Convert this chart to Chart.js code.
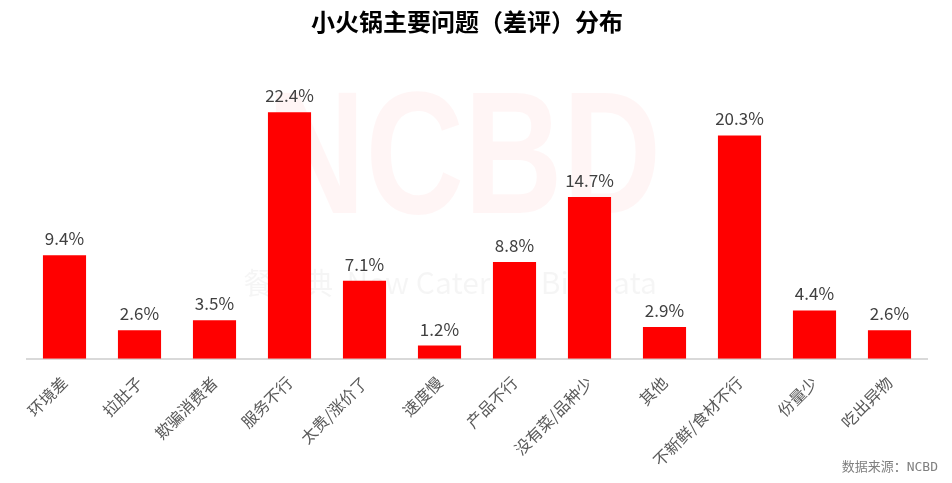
<!DOCTYPE html>
<html>
<head>
<meta charset="utf-8">
<script src="https://cdn.jsdelivr.net/npm/chart.js@4/dist/chart.umd.min.js"></script>
<style>
  html, body { margin: 0; padding: 0; background: #fff; }
  #wrap { position: relative; width: 952px; height: 483px; }
  #src { position: absolute; right: 14px; top: 456px; font: 13px "DejaVu Sans Mono", "Noto Sans CJK SC", monospace; color: #808080; }
</style>
</head>
<body>
<div id="wrap">
  <canvas id="myChart" width="952" height="483"></canvas>
  <div id="src">数据来源：NCBD</div>
</div>
<script>
const labels = ['环境差', '拉肚子', '欺骗消费者', '服务不行', '太贵/涨价了', '速度慢', '产品不行', '没有菜/品种少', '其他', '不新鲜/食材不行', '份量少', '吃出异物'];
const values = [9.4, 2.6, 3.5, 22.4, 7.1, 1.2, 8.8, 14.7, 2.9, 20.3, 4.4, 2.6];
const titleText = '小火锅主要问题（差评）分布';

const cjk = '"Noto Sans CJK SC", "Noto Sans", sans-serif';

// title drawn centred on the canvas (not the chart area)
const titleDraw = {
  id: 'titleDraw',
  afterDraw(chart) {
    const ctx = chart.ctx;
    ctx.save();
    ctx.fillStyle = '#000';
    ctx.font = 'bold 24px ' + cjk;
    ctx.textAlign = 'center';
    ctx.textBaseline = 'middle';
    ctx.fillText(titleText, 467, 22);
    ctx.restore();
  }
};

// faint watermark behind bars
const watermark = {
  id: 'watermark',
  beforeDatasetsDraw(chart) {
    const ctx = chart.ctx;
    ctx.save();
    ctx.fillStyle = 'rgba(255,0,0,0.04)';
    ctx.textAlign = 'center';
    ctx.textBaseline = 'middle';
    ctx.translate(464, 165);
    ctx.scale(0.78, 1);
    ctx.font = 'bold 175px "Liberation Sans", sans-serif';
    ctx.fillText('NCBD', 0, 0);
    ctx.restore();
    ctx.save();
    ctx.fillStyle = 'rgba(0,0,0,0.04)';
    ctx.textAlign = 'center';
    ctx.textBaseline = 'middle';
    ctx.font = '30px ' + cjk;
    ctx.fillText('餐宝典  New Catering Big Data', 450, 283);
    ctx.restore();
  }
};

// value labels on top of bars
const valueLabels = {
  id: 'valueLabels',
  afterDatasetsDraw(chart) {
    const ctx = chart.ctx;
    const meta = chart.getDatasetMeta(0);
    ctx.save();
    ctx.fillStyle = '#404040';
    ctx.font = '17px ' + cjk;
    ctx.textAlign = 'center';
    ctx.textBaseline = 'bottom';
    meta.data.forEach((bar, i) => {
      ctx.fillText(values[i].toFixed(1) + '%', bar.x, bar.y - 8);
    });
    ctx.restore();
  }
};

const data = {
  labels: labels,
  datasets: [{
    data: values,
    backgroundColor: '#ff0000',
    categoryPercentage: 1,
    barPercentage: 0.575
  }]
};

const config = {
  type: 'bar',
  data: data,
  plugins: [watermark, valueLabels, titleDraw],
  options: {
    responsive: false,
    animation: false,
    layout: { padding: { left: 27, right: 25, top: 65, bottom: 7 } },
    plugins: {
      legend: { display: false },
      tooltip: { enabled: false },
      title: { display: false }
    },
    scales: {
      x: {
        grid: { display: false },
        border: { display: true, color: '#d9d9d9', width: 2 },
        ticks: {
          color: '#595959',
          font: { family: cjk, size: 16 },
          minRotation: 45,
          maxRotation: 45,
          padding: 6
        }
      },
      y: {
        display: false,
        min: 0,
        max: 26.7
      }
    }
  }
};

const myChart = new Chart(document.getElementById('myChart').getContext('2d'), config);
</script>
</body>
</html>
